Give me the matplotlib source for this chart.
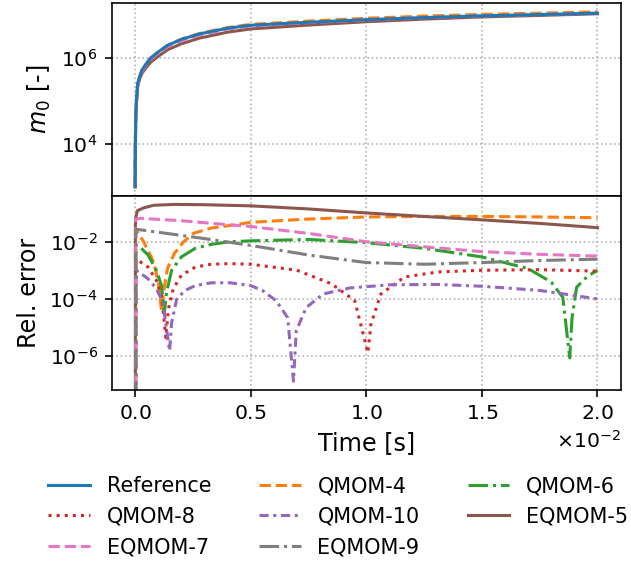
import numpy as np
import matplotlib
matplotlib.use("Agg")
import matplotlib.pyplot as plt

# ---- m0 (top panel), time in units of 1e-2 s ----
t_m0 = np.array([0, 0.001, 0.003, 0.006, 0.011, 0.02, 0.03, 0.05, 0.066, 0.1, 0.14,
                 0.2, 0.28, 0.4, 0.5, 0.75, 1.0, 1.25, 1.5, 1.75, 2.0]) * 1e-2
m0_ref = [1.0e3, 1.0e4, 5.0e4, 1.05e5, 2.5e5, 3.8e5, 5.25e5, 7.6e5, 9.8e5, 1.38e6, 1.95e6,
          2.7e6, 3.63e6, 4.9e6, 5.75e6, 6.76e6, 7.76e6, 8.7e6, 9.55e6, 1.02e7, 1.1e7]
m0_qmom4 = [1.0e3, 9.9e3, 4.9e4, 1.02e5, 2.44e5, 3.72e5, 5.17e5, 7.54e5, 9.77e5, 1.38e6, 1.96e6,
            2.73e6, 3.72e6, 5.08e6, 6.03e6, 7.19e6, 8.35e6, 9.39e6, 1.03e7, 1.10e7, 1.18e7]
m0_eqmom5 = [1.0e3, 9.8e3, 4.75e4, 9.55e4, 2.2e5, 3.27e5, 4.41e5, 6.16e5, 7.84e5, 1.09e6, 1.54e6,
             2.13e6, 2.9e6, 3.97e6, 4.72e6, 5.81e6, 6.95e6, 8.0e6, 8.98e6, 9.74e6, 1.065e7]
m0_eqmom7 = [1.0e3, 9.8e3, 4.8e4, 9.92e4, 2.34e5, 3.55e5, 4.9e5, 7.11e5, 9.17e5, 1.29e6, 1.83e6,
             2.55e6, 3.45e6, 4.69e6, 5.54e6, 6.61e6, 7.68e6, 8.64e6, 9.51e6, 1.016e7, 1.096e7]

# ---- relative errors (bottom panel) ----
t_q4 = np.array([0, 0.003, 0.01, 0.037, 0.08, 0.1, 0.114, 0.125, 0.14, 0.17, 0.21, 0.254,
                 0.33, 0.41, 0.5, 0.73, 1.0, 1.25, 1.5, 1.75, 2.0]) * 1e-2
err_q4 = [0, 0.025, 0.0224, 0.0102, 2.0e-3, 3.9e-4, 3.9e-5, 2.3e-4, 1.17e-3, 4.0e-3, 0.0102, 0.0204,
          0.031, 0.038, 0.049, 0.063, 0.076, 0.079, 0.079, 0.076, 0.071]

t_q6 = np.array([0, 0.003, 0.02, 0.056, 0.092, 0.114, 0.126, 0.136, 0.158, 0.2, 0.26, 0.33, 0.41,
                 0.5, 0.75, 1.0, 1.25, 1.5, 1.7, 1.8, 1.85, 1.88, 1.89, 1.91, 1.956, 2.0]) * 1e-2
err_q6 = [0, 7.9e-3, 6.8e-3, 3.5e-3, 1.02e-3, 3.0e-4, 3.0e-5, 1.74e-4, 1.02e-3, 3.0e-3, 6.0e-3,
          8.3e-3, 1.02e-2, 1.1e-2, 1.23e-2, 9.5e-3, 6.0e-3, 3.0e-3, 1.17e-3, 3.9e-4, 1.15e-4,
          8.5e-7, 2.2e-5, 2.6e-4, 6.2e-4, 1.02e-3]

t_q8 = np.array([0, 0.003, 0.012, 0.056, 0.092, 0.114, 0.133, 0.144, 0.165, 0.2, 0.26, 0.33, 0.41,
                 0.5, 0.7, 0.85, 0.95, 1.007, 1.02, 1.063, 1.165, 1.31, 1.5, 1.75, 2.0]) * 1e-2
err_q8 = [0, 2.5e-3, 2.3e-3, 1.32e-3, 4.5e-4, 1.32e-4, 4.4e-6, 4.4e-5, 2.3e-4, 6.8e-4, 1.32e-3,
          1.66e-3, 1.74e-3, 1.66e-3, 1.02e-3, 3.4e-4, 8.7e-5, 1.3e-6, 1.3e-5, 1.5e-4, 5.9e-4,
          8.9e-4, 1.02e-3, 1.07e-3, 9.5e-4]

t_q10 = np.array([0, 0.003, 0.012, 0.056, 0.092, 0.12, 0.149, 0.158, 0.18, 0.216, 0.26, 0.33, 0.41,
                  0.5, 0.55, 0.61, 0.66, 0.685, 0.697, 0.74, 0.814, 0.93, 1.107, 1.31, 1.5, 1.75,
                  2.0]) * 1e-2
err_q10 = [0, 1.0e-3, 9.3e-4, 5.1e-4, 2.3e-4, 7.6e-5, 1.5e-6, 1.5e-5, 1.0e-4, 2.0e-4, 2.95e-4,
           3.7e-4, 3.7e-4, 2.95e-4, 2.0e-4, 8.7e-5, 2.2e-5, 1.3e-7, 7.6e-6, 5.0e-5, 1.5e-4,
           2.45e-4, 3.16e-4, 3.24e-4, 2.8e-4, 2.0e-4, 1.0e-4]

t_e5 = np.array([0, 0.001, 0.004, 0.01, 0.037, 0.08, 0.17, 0.3, 0.5, 0.75, 1.0, 1.25, 1.5,
                 1.75, 2.0]) * 1e-2
err_e5 = [0, 0.04, 0.08, 0.126, 0.158, 0.195, 0.209, 0.204, 0.186, 0.145, 0.105, 0.079, 0.060,
          0.045, 0.032]

t_e7 = np.array([0, 0.002, 0.023, 0.2, 0.41, 0.5, 0.75, 1.0, 1.25, 1.5, 1.75, 2.0]) * 1e-2
err_e7 = [0, 0.063, 0.068, 0.056, 0.040, 0.035, 0.020, 0.0102, 0.0068, 0.0046, 0.0037, 0.0032]

t_e9 = np.array([0, 0.003, 0.02, 0.3, 0.5, 0.75, 1.0, 1.25, 1.5, 1.75, 2.0]) * 1e-2
err_e9 = [0, 0.028, 0.027, 0.0132, 0.0076, 0.0035, 0.0019, 0.00166, 0.0019, 0.00224, 0.0025]

plt.rcParams['axes.labelsize'] = 11.7
plt.rcParams['legend.fontsize'] = 10.2

fig = plt.figure(figsize=(631 / 147, 562 / 147), dpi=147)
ax1 = fig.add_axes([0.1775, 0.652, 0.806, 0.3425])
ax2 = fig.add_axes([0.1775, 0.306, 0.806, 0.346], sharex=ax1)

# top panel
ax1.plot(t_m0, m0_qmom4, color='C1', linestyle='--')
ax1.plot(t_m0, m0_eqmom5, color='C5', linestyle='-')
ax1.plot(t_m0, m0_eqmom7, color='C6', linestyle='--')
h_ref, = ax1.plot(t_m0, m0_ref, color='C0', linestyle='-', label='Reference')
ax1.set_yscale('log')
ax1.set_ylabel('$m_0$ [-]')
ax1.tick_params(labelbottom=False)

# bottom panel
h_q4, = ax2.plot(t_q4, err_q4, color='C1', linestyle='--', label='QMOM-4')
h_q6, = ax2.plot(t_q6, err_q6, color='C2', linestyle='-.', label='QMOM-6')
h_q8, = ax2.plot(t_q8, err_q8, color='C3', linestyle=':', label='QMOM-8')
h_q10, = ax2.plot(t_q10, err_q10, color='C4', linestyle=(0, (3, 1.5, 1, 1.5)), label='QMOM-10')
h_e5, = ax2.plot(t_e5, err_e5, color='C5', linestyle='-', label='EQMOM-5')
h_e7, = ax2.plot(t_e7, err_e7, color='C6', linestyle='--', label='EQMOM-7')
h_e9, = ax2.plot(t_e9, err_e9, color='C7', linestyle='-.', label='EQMOM-9')
ax2.set_yscale('log')
ax2.set_ylabel('Rel. error')
ax2.set_xlabel('Time [s]')
ax2.ticklabel_format(axis='x', style='sci', scilimits=(0, 0), useMathText=True)

for ax in (ax1, ax2):
    ax.minorticks_off()
    ax.grid(True, linestyle=':')

handles = [h_ref, h_q8, h_e7, h_q4, h_q10, h_e9, h_q6, h_e5]
fig.legend(handles=handles, labels=[h.get_label() for h in handles], ncol=3,
           loc='upper center', bbox_to_anchor=(0.536, 0.186), frameon=False,
           columnspacing=2.3)

fig.savefig('out.png', dpi=147)
